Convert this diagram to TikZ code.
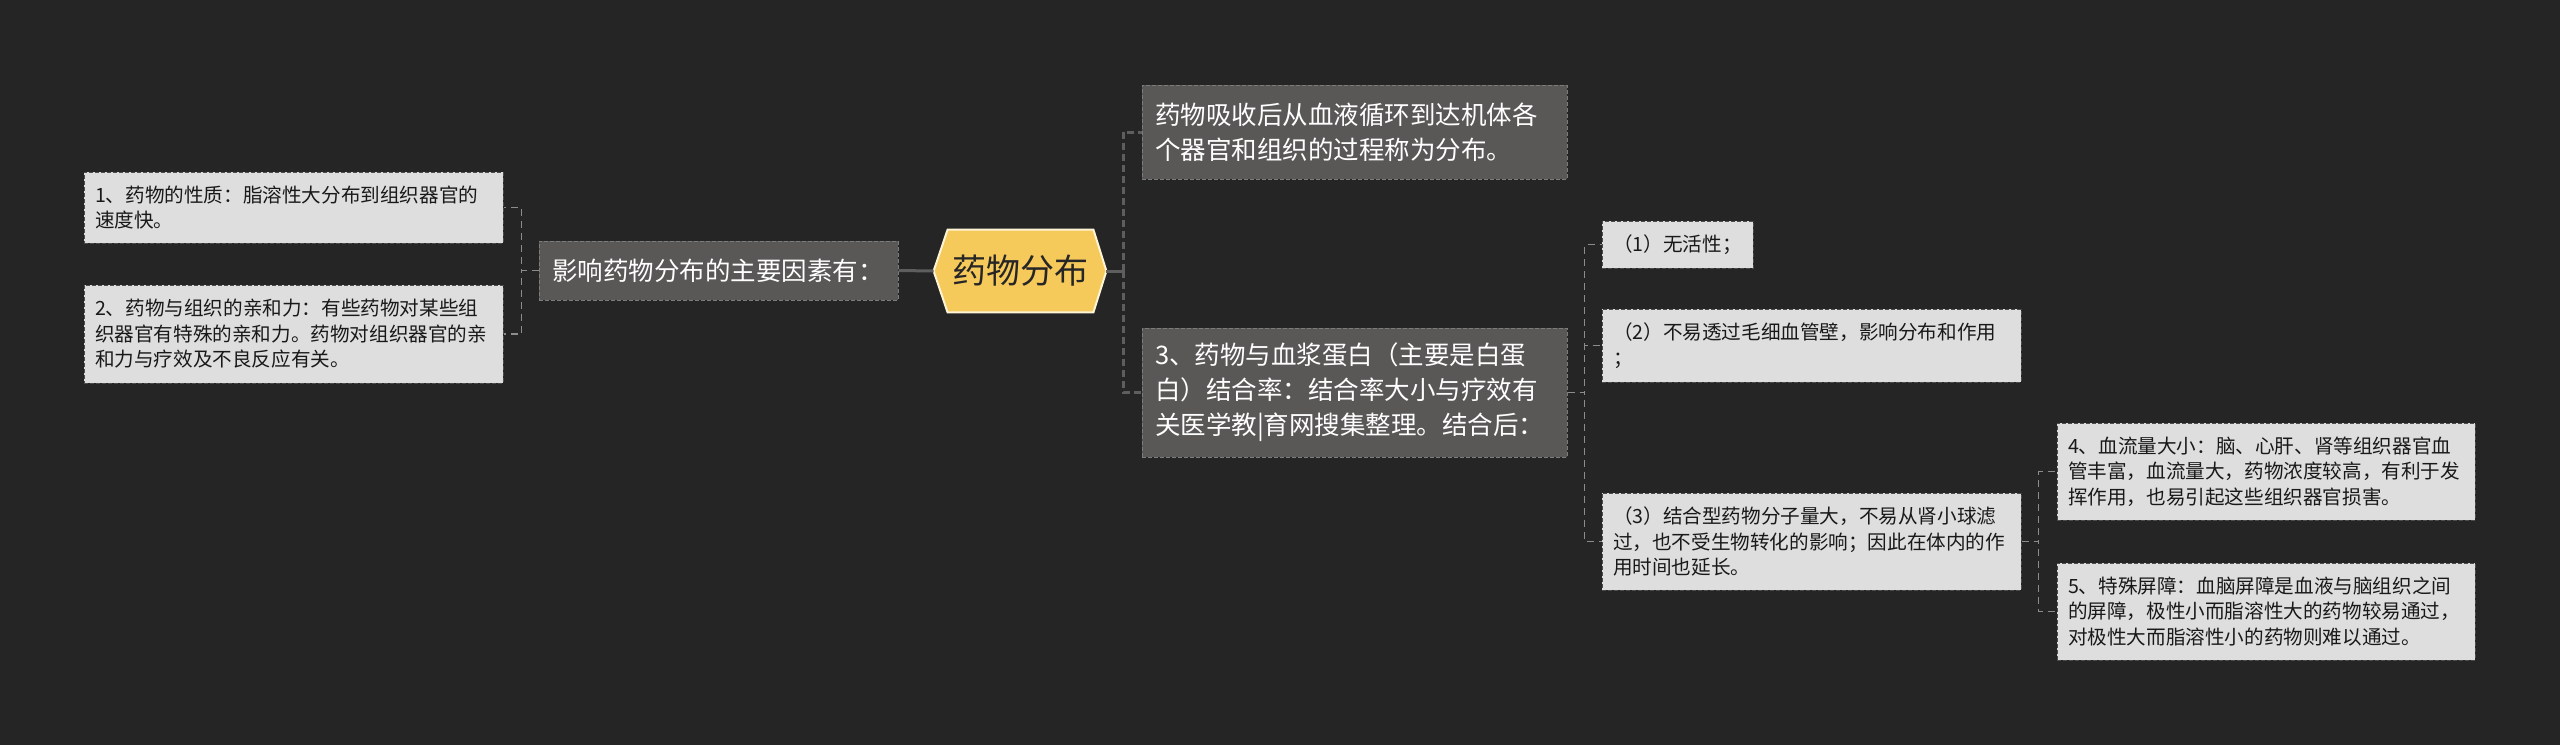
\documentclass[tikz,border=0pt]{standalone}
\usepackage{fontspec}
\newfontfamily\cjk{Noto Sans CJK SC}
\usetikzlibrary{calc}
\definecolor{bgcolor}{HTML}{252525}
\definecolor{darkfill}{HTML}{5A5857}
\definecolor{darkedge}{HTML}{7C7C7C}
\definecolor{lightfill}{HTML}{DEDEDE}
\definecolor{lightedge}{HTML}{4C4C4C}
\definecolor{rootfill}{HTML}{F6C95B}
\definecolor{rootedge}{HTML}{FFF4D6}
\definecolor{linkdark}{HTML}{5E5E5E}
\definecolor{linklight}{HTML}{8C8C8C}
\begin{document}
\begin{tikzpicture}[x=0.5pt,y=-0.5pt,line join=miter,
  darkbox/.style={fill=darkfill,draw=darkedge,line width=0.5pt,dash pattern=on 2pt off 1pt,
    text=white,align=left,inner xsep=6.5pt,
    font=\fontsize{12.75pt}{17.5pt}\selectfont\cjk},
  lightbox/.style={fill=lightfill,draw=lightedge,line width=0.5pt,dash pattern=on 2pt off 1pt,
    text=black!90,align=left,inner xsep=5.5pt,
    font=\fontsize{9.8pt}{12.75pt}\selectfont\cjk},
  thicklink/.style={draw=linkdark,line width=1.5pt},
  thickdash/.style={draw=linkdark,line width=1.5pt,dash pattern=on 3.5pt off 2pt},
  thinlink/.style={draw=linklight,line width=0.6pt,dash pattern=on 3.5pt off 2.5pt}]
  \fill[bgcolor] (0,0) rectangle (2560,745);
  \useasboundingbox (0,0) rectangle (2560,745);
  % root
  \node[minimum width=86pt,minimum height=41pt,inner sep=0pt] (root) at (1020,271) {};
  \filldraw[fill=rootfill,draw=rootedge,line width=1pt]
    (root.west) -- ([xshift=7pt]root.north west) -- ([xshift=-6.5pt]root.north east)
    -- (root.east) -- ([xshift=-6.5pt]root.south east) -- ([xshift=7pt]root.south west) -- cycle;
  \node[text=black!85,font=\fontsize{17pt}{20pt}\selectfont\cjk] (roottext) at (root) {药物分布};
  % first level
  \node[darkbox,text width=166.5pt,minimum height=29.5pt] (d1) at (718.5,270.5) {影响药物分布的主要因素有：};
  \node[darkbox,text width=199.5pt,minimum height=47pt] (d2) at (1354.5,132)
    {药物吸收后从血液循环到达机体各\\个器官和组织的过程称为分布。};
  \node[darkbox,text width=199.5pt,minimum height=64.5pt] (d3) at (1354.5,392.5)
    {3、药物与血浆蛋白（主要是白蛋\\白）结合率：结合率大小与疗效有\\关医学教|育网搜集整理。结合后：};
  % left leaves
  \node[lightbox,text width=198.5pt,minimum height=35.5pt] (l1) at (293.5,207.5)
    {1、药物的性质：脂溶性大分布到组织器官的\\速度快。};
  \node[lightbox,text width=198.5pt,minimum height=49pt] (l2) at (293.5,334)
    {2、药物与组织的亲和力：有些药物对某些组\\织器官有特殊的亲和力。药物对组织器官的亲\\和力与疗效及不良反应有关。};
  % right leaves
  \node[lightbox,minimum width=75.5pt,minimum height=23.5pt] (s1) at (1677.5,244.5) {（1）无活性；};
  \node[lightbox,text width=198.5pt,minimum height=36.5pt] (s2) at (1811.5,345.5)
    {（2）不易透过毛细血管壁，影响分布和作用\\；};
  \node[lightbox,text width=198.5pt,minimum height=48.5pt] (s3) at (1811.5,541.5)
    {（3）结合型药物分子量大，不易从肾小球滤\\过，也不受生物转化的影响；因此在体内的作\\用时间也延长。};
  \node[lightbox,text width=198pt,minimum height=48.5pt] (s4) at (2266,471.5)
    {4、血流量大小：脑、心肝、肾等组织器官血\\管丰富，血流量大，药物浓度较高，有利于发\\挥作用，也易引起这些组织器官损害。};
  \node[lightbox,text width=198pt,minimum height=48.5pt] (s5) at (2266,611.5)
    {5、特殊屏障：血脑屏障是血液与脑组织之间\\的屏障，极性小而脂溶性大的药物较易通过，\\对极性大而脂溶性小的药物则难以通过。};
  % links from root
  \draw[thicklink] (root.west) -- (d1.east);
  \draw[thicklink] (root.east) -- ++(17,0) coordinate (rootjoint);
  \foreach \kid in {d2,d3}{ \draw[thickdash] (rootjoint) |- (\kid.west); }
  % links to leaves
  \foreach \kid in {l1,l2}{ \draw[thinlink] (d1.west) -- ++(-17,0) |- (\kid.east); }
  \foreach \kid in {s1,s2,s3}{ \draw[thinlink] (d3.east) -- ++(17,0) |- (\kid.west); }
  \foreach \kid in {s4,s5}{ \draw[thinlink] (s3.east) -- ++(17,0) |- (\kid.west); }
\end{tikzpicture}
\end{document}
